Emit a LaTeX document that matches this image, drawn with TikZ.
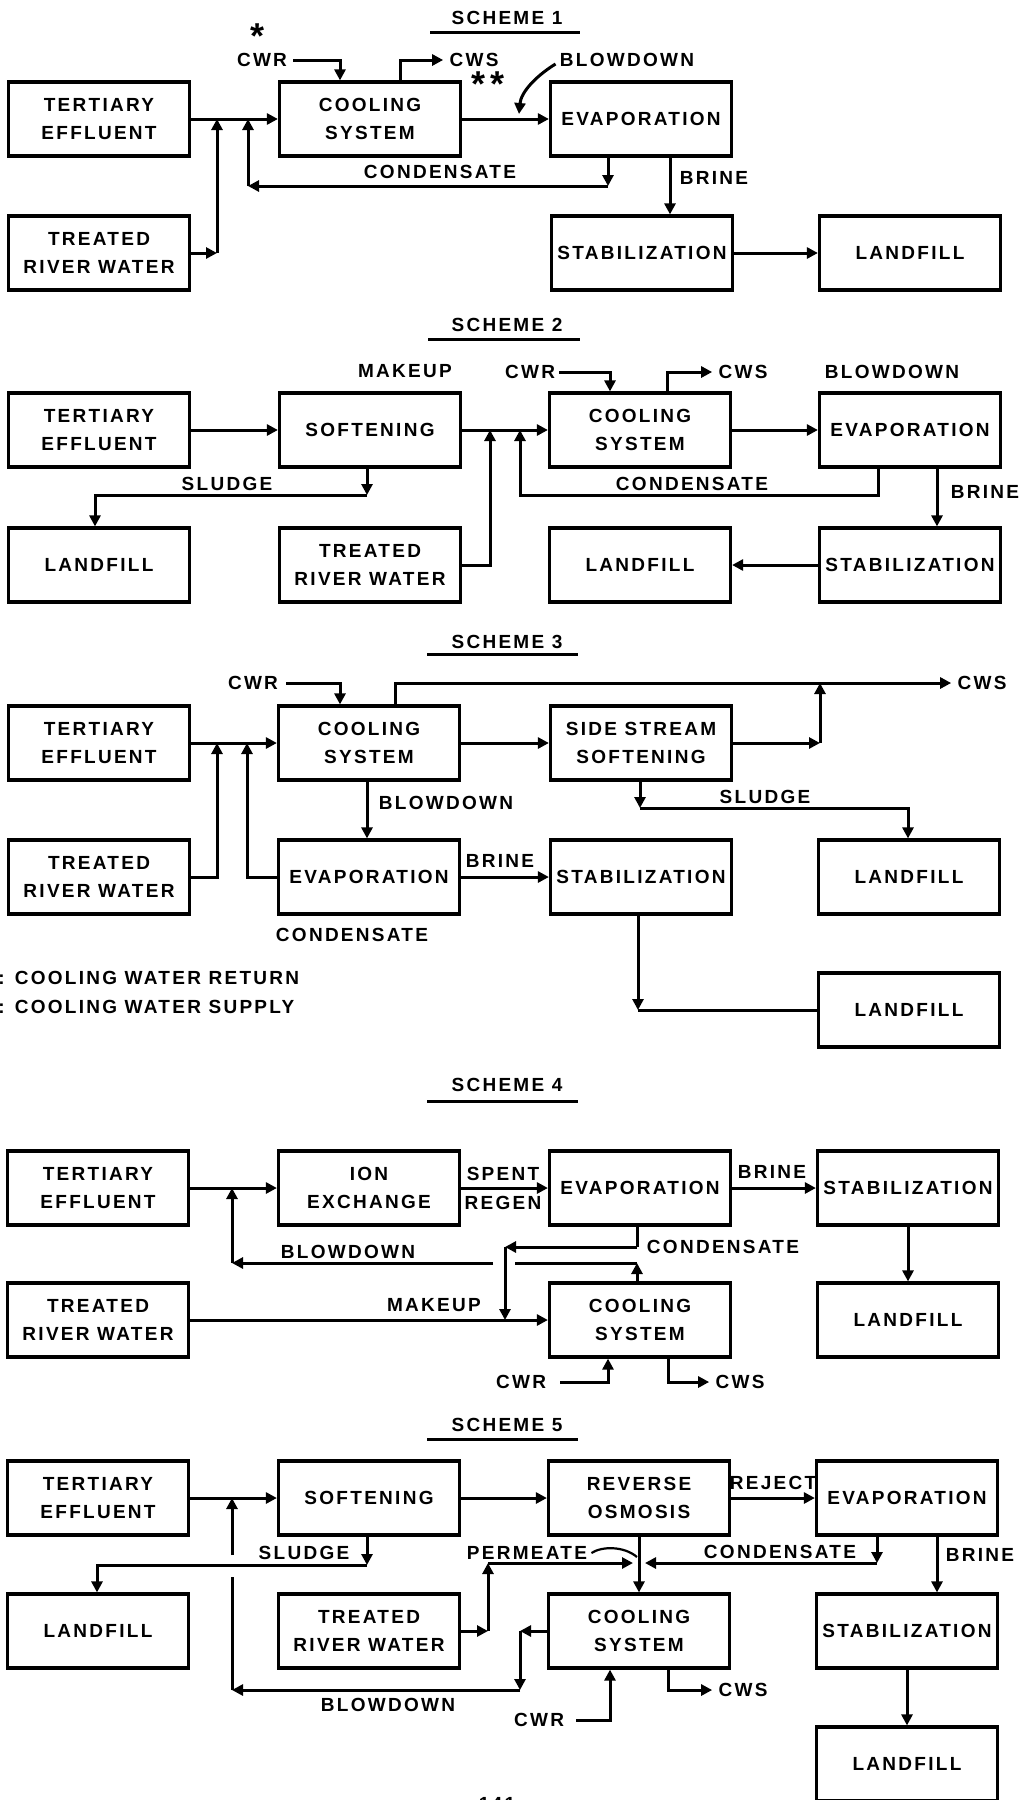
\documentclass[tikz,border=0pt]{standalone}
\usepackage{fontspec}
\usetikzlibrary{arrows.meta,calc}
\newfontfamily\diafontfam{Liberation Sans}[LetterSpace=12]
\newcommand\diafont{\diafontfam\bfseries\fontsize{9.5}{14}\selectfont}
\newcommand\starfont{\diafontfam\bfseries\fontsize{18}{18}\selectfont}
\tikzset{
  box/.style={draw, line width=1.6pt, minimum width=90.5pt, minimum height=37pt,
              inner sep=0pt, align=center, font=\diafont},
  lbl/.style={font=\diafont, inner sep=0pt},
  star/.style={font=\starfont, inner sep=0pt},
  ln/.style={line width=1.5pt},
  arr/.style={ln, -{Triangle[length=5.5pt,width=5.5pt]}},
  uline/.style={line width=1.5pt},
}
\begin{document}
\begin{tikzpicture}[x=0.5pt,y=-0.5pt]
\useasboundingbox (0,0) rectangle (1029,1800);

% ---------------- SCHEME 1 ----------------
\node[lbl] (t1) at (507,18) {SCHEME 1};
\draw[uline] (430,32) -- (580,32);
\node[box] (te1) at (99,119) {TERTIARY\\EFFLUENT};
\node[box] (rw1) at (99,253) {TREATED\\RIVER WATER};
\node[box] (cs1) at (370,119) {COOLING\\SYSTEM};
\node[box] (ev1) at (641,119) {EVAPORATION};
\node[box] (st1) at (642,253) {STABILIZATION};
\node[box] (lf1) at (910,253) {LANDFILL};
\node[lbl] (cwr1) at (262,60) {CWR};
\node[lbl] (cws1) at (474,60) {CWS};
\node[lbl] (bd1) at (627,60) {BLOWDOWN};
\node[lbl] (cd1) at (440,172) {CONDENSATE};
\node[lbl] (br1) at (714,178) {BRINE};
\node[star] (s1) at (258,36) {*};
\node[star] (s2) at (488,84) {**};
\coordinate (j1a) at (217,119);
\coordinate (j1b) at (248,119);
\coordinate (cwr1c) at (340,60);
\coordinate (cws1c) at (400,60);
\coordinate (c1a) at (608,186);
\coordinate (c1b) at (248,186);
\coordinate (bd1t) at (519,114);
\coordinate (br1c) at (670,186);
\draw[arr] (te1.east) -- (cs1.west);
\draw[arr] (rw1.east) -- (rw1.east -| j1a);
\draw[arr] (rw1.east -| j1a) -- (j1a);
\draw[arr] ([xshift=3pt]cwr1.east) -- (cwr1c) -- (cs1.north -| cwr1c);
\draw[arr] (cs1.north -| cws1c) -- (cws1c) -- ([xshift=-3pt]cws1.west);
\draw[arr] (cs1.east) -- (ev1.west);
\draw[arr] ([xshift=-2pt,yshift=-2pt]bd1.west) .. controls (536,76) and (521,92) .. (bd1t);
\draw[arr] (ev1.south -| c1a) -- (c1a);
\draw[arr] (c1a) -- (c1b);
\draw[arr] (c1b) -- (j1b);
\draw[arr] (ev1.south -| br1c) -- (st1.north -| br1c);
\draw[arr] (st1.east) -- (lf1.west);

% ---------------- SCHEME 2 ----------------
\node[lbl] (t2) at (507,325) {SCHEME 2};
\draw[uline] (428,339) -- (580,339);
\node[box] (te2) at (99,430) {TERTIARY\\EFFLUENT};
\node[box] (sf2) at (370,430) {SOFTENING};
\node[box] (cs2) at (640,430) {COOLING\\SYSTEM};
\node[box] (ev2) at (910,430) {EVAPORATION};
\node[box] (lf2a) at (99,565) {LANDFILL};
\node[box] (rw2) at (370,565) {TREATED\\RIVER WATER};
\node[box] (lf2b) at (640,565) {LANDFILL};
\node[box] (st2) at (910,565) {STABILIZATION};
\node[lbl] (mk2) at (405,371) {MAKEUP};
\node[lbl] (cwr2) at (530,372) {CWR};
\node[lbl] (cws2) at (743,372) {CWS};
\node[lbl] (bd2) at (892,372) {BLOWDOWN};
\node[lbl] (sl2) at (227,484) {SLUDGE};
\node[lbl] (cd2) at (692,484) {CONDENSATE};
\node[lbl] (br2) at (985,492) {BRINE};
\coordinate (sl2a) at (367,495);
\coordinate (sl2b) at (95,495);
\coordinate (j2a) at (490,430);
\coordinate (j2b) at (520,430);
\coordinate (c2a) at (878,495);
\coordinate (cwr2c) at (610,372);
\coordinate (cws2c) at (667,372);
\coordinate (br2c) at (937,495);
\draw[arr] (te2.east) -- (sf2.west);
\draw[arr] (sf2.south -| sl2a) -- (sl2a);
\draw[arr] (sl2a) -- (sl2b) -- (lf2a.north -| sl2b);
\draw[arr] (sf2.east) -- (cs2.west);
\draw[arr] (rw2.east) -| (j2a);
\draw[arr] (ev2.south -| c2a) -- (c2a) -| (j2b);
\draw[arr] ([xshift=2pt]cwr2.east) -- (cwr2c) -- (cs2.north -| cwr2c);
\draw[arr] (cs2.north -| cws2c) -- (cws2c) -- ([xshift=-3pt]cws2.west);
\draw[arr] (cs2.east) -- (ev2.west);
\draw[arr] (ev2.south -| br2c) -- (st2.north -| br2c);
\draw[arr] (st2.west) -- (lf2b.east);

% ---------------- SCHEME 3 ----------------
\node[lbl] (t3) at (507,642) {SCHEME 3};
\draw[uline] (427,654) -- (578,654);
\node[box] (te3) at (99,743) {TERTIARY\\EFFLUENT};
\node[box] (cs3) at (369,743) {COOLING\\SYSTEM};
\node[box] (ss3) at (641,743) {SIDE STREAM\\SOFTENING};
\node[box] (rw3) at (99,877) {TREATED\\RIVER WATER};
\node[box] (ev3) at (369,877) {EVAPORATION};
\node[box] (st3) at (641,877) {STABILIZATION};
\node[box] (lf3a) at (909,877) {LANDFILL};
\node[box] (lf3b) at (909,1010) {LANDFILL};
\node[lbl] (cwr3) at (253,683) {CWR};
\node[lbl] (cws3) at (982,683) {CWS};
\node[lbl] (bd3) at (446,803) {BLOWDOWN};
\node[lbl] (sl3) at (765,797) {SLUDGE};
\node[lbl] (br3) at (500,861) {BRINE};
\node[lbl] (cd3) at (352,935) {CONDENSATE};
\node[lbl, anchor=west] (lg1) at (-2,978) {: COOLING WATER RETURN};
\node[lbl, anchor=west] (lg2) at (-2,1007) {: COOLING WATER SUPPLY};
\coordinate (j3a) at (217,743);
\coordinate (j3b) at (247,743);
\coordinate (cwr3c) at (340,683);
\coordinate (cws3c) at (395,683);
\coordinate (j3c) at (820,683);
\coordinate (sl3a) at (640,808);
\coordinate (sl3b) at (908,808);
\coordinate (bd3c) at (367,808);
\coordinate (c3b) at (638,1008);
\draw[arr] (te3.east) -- (cs3.west);
\draw[arr] (rw3.east) -| (j3a);
\draw[arr] (ev3.west) -| (j3b);
\draw[arr] ([xshift=4pt]cwr3.east) -- (cwr3c) -- (cs3.north -| cwr3c);
\draw[arr] (cs3.north -| cws3c) -- (cws3c) -- ([xshift=-3pt]cws3.west);
\draw[arr] (cs3.east) -- (ss3.west);
\draw[arr] (ss3.east) -- (ss3.east -| j3c);
\draw[arr] (ss3.east -| j3c) -- (j3c);
\draw[arr] (ss3.south -| sl3a) -- (sl3a);
\draw[arr] (sl3a) -- (sl3b) -- (lf3a.north -| sl3b);
\draw[arr] (cs3.south -| bd3c) -- (ev3.north -| bd3c);
\draw[arr] (ev3.east) -- (st3.west);
\draw[arr] (st3.south -| c3b) -- (lf3b.west -| c3b);
\draw[ln] (lf3b.west -| c3b) -- (lf3b.west);

% ---------------- SCHEME 4 ----------------
\node[lbl] (t4) at (507,1085) {SCHEME 4};
\draw[uline] (427,1101) -- (578,1101);
\node[box] (te4) at (98,1188) {TERTIARY\\EFFLUENT};
\node[box] (ix4) at (369,1188) {ION\\EXCHANGE};
\node[box] (ev4) at (640,1188) {EVAPORATION};
\node[box] (st4) at (908,1188) {STABILIZATION};
\node[box] (rw4) at (98,1320) {TREATED\\RIVER WATER};
\node[box] (cs4) at (640,1320) {COOLING\\SYSTEM};
\node[box] (lf4) at (908,1320) {LANDFILL};
\node[lbl] (sp4) at (503,1174) {SPENT};
\node[lbl] (rg4) at (503,1203) {REGEN};
\node[lbl] (br4) at (772,1172) {BRINE};
\node[lbl] (cd4) at (723,1247) {CONDENSATE};
\node[lbl] (bd4) at (348,1252) {BLOWDOWN};
\node[lbl] (mk4) at (434,1305) {MAKEUP};
\node[lbl] (cwr4) at (521,1382) {CWR};
\node[lbl] (cws4) at (740,1382) {CWS};
\coordinate (j4a) at (232,1188);
\coordinate (c4a) at (637,1247);
\coordinate (c4b) at (505,1247);
\coordinate (b4a) at (637,1263);
\coordinate (b4b) at (232,1263);
\coordinate (cwr4c) at (608,1382);
\coordinate (cws4c) at (668,1382);
\draw[arr] (te4.east) -- (ix4.west);
\draw[arr] (ix4.east) -- (ev4.west);
\draw[arr] (ev4.east) -- (st4.west);
\draw[arr] (st4.south) -- (lf4.north);
\draw[arr] (rw4.east) -- (cs4.west);
\draw[ln] (ev4.south -| c4a) -- (c4a);
\draw[arr] (c4a) -- (c4b);
\draw[arr] (cs4.north -| b4a) -- (b4a);
\draw[ln] (b4a) -- ([xshift=5pt]b4a -| c4b);
\draw[arr] ([xshift=-6pt]b4a -| c4b) -- (b4b);
\draw[arr] (b4b) -- (j4a);
\draw[arr] (c4b) -- (cs4.west -| c4b);
\draw[arr] ([xshift=7pt]cwr4.east) -- (cwr4c) -- (cs4.south -| cwr4c);
\draw[arr] (cs4.south -| cws4c) -- (cws4c) -- ([xshift=-3pt]cws4.west);

% ---------------- SCHEME 5 ----------------
\node[lbl] (t5) at (507,1425) {SCHEME 5};
\draw[uline] (427,1439) -- (578,1439);
\node[box] (te5) at (98,1498) {TERTIARY\\EFFLUENT};
\node[box] (sf5) at (369,1498) {SOFTENING};
\node[box] (ro5) at (639,1498) {REVERSE\\OSMOSIS};
\node[box] (ev5) at (907,1498) {EVAPORATION};
\node[box] (lf5a) at (98,1631) {LANDFILL};
\node[box] (rw5) at (369,1631) {TREATED\\RIVER WATER};
\node[box] (cs5) at (639,1631) {COOLING\\SYSTEM};
\node[box] (st5) at (907,1631) {STABILIZATION};
\node[box] (lf5b) at (907,1764) {LANDFILL};
\node[lbl] (rj5) at (773,1483) {REJECT};
\node[lbl] (sl5) at (304,1553) {SLUDGE};
\node[lbl] (pm5) at (527,1553) {PERMEATE};
\node[lbl] (cd5) at (780,1552) {CONDENSATE};
\node[lbl] (br5) at (980,1555) {BRINE};
\node[lbl] (bd5) at (388,1705) {BLOWDOWN};
\node[lbl] (cwr5) at (539,1720) {CWR};
\node[lbl] (cws5) at (743,1690) {CWS};
\node[lbl] (pg) at (497,1804) {141};
\coordinate (j5a) at (232,1498);
\coordinate (sl5a) at (367,1565);
\coordinate (sl5b) at (97,1565);
\coordinate (b5a) at (520,1631);
\coordinate (b5b) at (520,1690);
\coordinate (b5c) at (232,1690);
\coordinate (c5a) at (877,1563);
\coordinate (m5) at (639,1563);
\coordinate (p5a) at (488,1563);
\coordinate (p5l) at (637,1557);
\coordinate (br5c) at (937,1563);
\coordinate (cwr5c) at (610,1720);
\coordinate (cws5c) at (668,1690);
\draw[arr] (te5.east) -- (sf5.west);
\draw[arr] (sf5.east) -- (ro5.west);
\draw[arr] (ro5.east) -- (ev5.west);
\draw[arr] (sf5.south -| sl5a) -- (sl5a);
\draw[arr] (sl5a) -- (sl5b) -- (lf5a.north -| sl5b);
\draw[arr] (cs5.west) -- (b5a);
\draw[arr] (b5a) -- (b5b);
\draw[arr] (b5b) -- (b5c);
\draw[ln] (b5c) -- ([yshift=-6pt]b5c |- sl5a);
\draw[arr] ([yshift=5pt]b5c |- sl5a) -- (j5a);
\draw[arr] (ro5.south) -- (cs5.north);
\draw[arr] (ev5.south -| c5a) -- (c5a);
\draw[arr] (c5a) -- ([xshift=3pt]m5);
\draw[arr] (rw5.east) -- (rw5.east -| p5a);
\draw[arr] (rw5.east -| p5a) -- (p5a);
\draw[arr] (p5a) -- ([xshift=-3pt]m5);
\draw[line width=1.1pt] ([xshift=2pt]pm5.east) .. controls (602,1546) and (624,1546) .. (p5l);
\draw[arr] (ev5.south -| br5c) -- (st5.north -| br5c);
\draw[arr] (st5.south) -- (lf5b.north);
\draw[arr] ([xshift=6pt]cwr5.east) -- (cwr5c) -- (cs5.south -| cwr5c);
\draw[arr] (cs5.south -| cws5c) -- (cws5c) -- ([xshift=-3pt]cws5.west);
\end{tikzpicture}
\end{document}
